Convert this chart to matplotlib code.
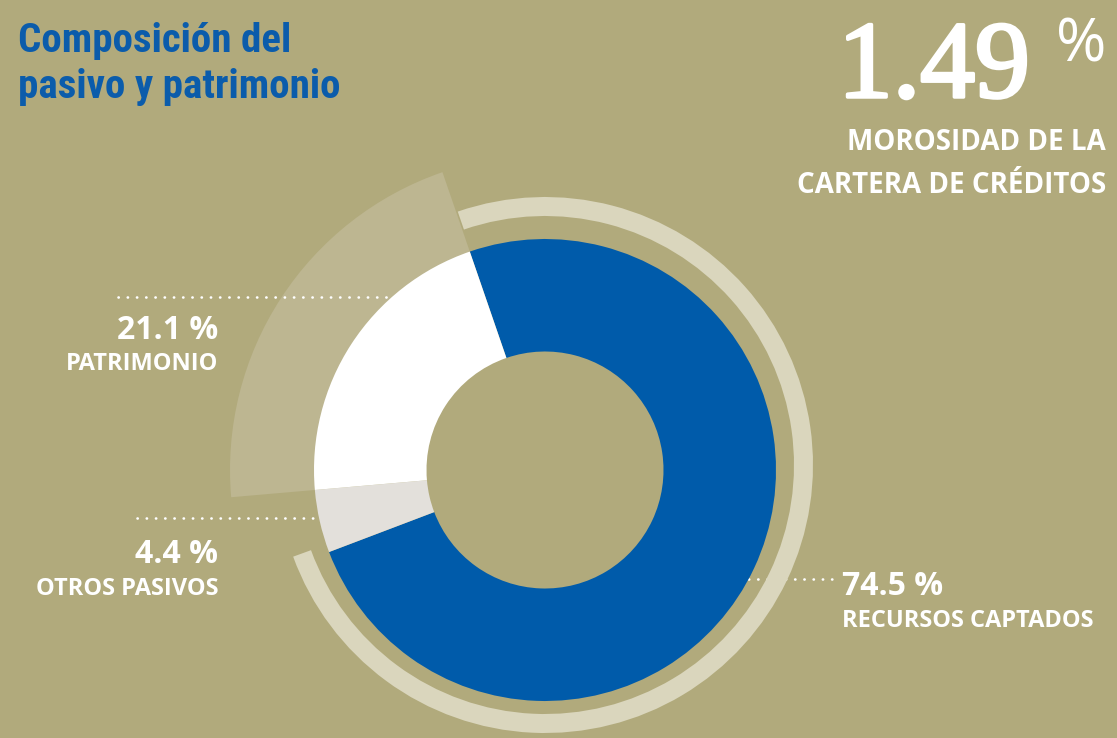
import matplotlib
matplotlib.use("Agg")
import matplotlib.pyplot as plt
from matplotlib import patches, font_manager, patheffects

# data
categories = ["RECURSOS CAPTADOS", "OTROS PASIVOS", "PATRIMONIO"]
shares = [74.5, 4.4, 21.1]
share_labels = ["74.5 %", "4.4 %", "21.1 %"]
headline_value = "1.49"
headline_unit = "%"
headline_text = ["MOROSIDAD DE LA", "CARTERA DE CRÉDITOS"]
title_lines = ["Composición del", "pasivo y patrimonio"]

W, H = 1117, 738
BG = "#B1AA7C"
BLUE = "#005BAA"
colors = [BLUE, "#E3E0DB", "#FFFFFF"]


def pick(names):
    avail = {f.name for f in font_manager.fontManager.ttflist}
    for n in names:
        if n in avail:
            return n
    return "DejaVu Sans"


title_font = pick(["Liberation Sans Narrow", "Roboto Condensed", "Liberation Sans"])
label_font = pick(["Open Sans", "Lato", "DejaVu Sans"])
big_font = pick(["Liberation Serif", "DejaVu Serif"])


def Y(y):
    """ flip a pixel row from the top into data coords """
    return H - y


fig = plt.figure(figsize=(W / 100, H / 100), dpi=100, facecolor=BG)
ax = fig.add_axes([0, 0, 1, 1])
ax.set_facecolor(BG)

center = (545, Y(470))
r_out, r_in = 231, 118.5

wedges, _ = ax.pie(shares, colors=colors, startangle=109, counterclock=False,
                   center=center, radius=r_out,
                   wedgeprops=dict(width=r_out - r_in, linewidth=0))
for w in wedges:
    w.set_zorder(3)

# big faded wedge behind the patrimonio slice (kept out of the hole)
pat = wedges[2]
ax.add_patch(patches.Wedge(center, 315, pat.theta1, pat.theta2, width=315 - 200,
                           facecolor="#BDB691", linewidth=0, zorder=1))

# thin outer ring following the blue slice
blue = wedges[0]
ax.add_patch(patches.Wedge((545, Y(465)), 268, blue.theta1 - 0.8, blue.theta2,
                           width=19, facecolor="#DAD6BD", linewidth=0, zorder=4))

ax.set_xlim(0, W)
ax.set_ylim(0, H)
ax.set_aspect("equal")
ax.axis("off")

# dotted leader lines
dot = dict(color="white", lw=1.9, linestyle=(0, (0.1, 3.4)),
           dash_capstyle="round", zorder=2)
ax.plot([118, 420], [Y(297), Y(297)], **dot)
ax.plot([137, 340], [Y(518), Y(518)], **dot)
ax.plot([730, 838], [Y(579), Y(579)], **dot)

# labels
lab_num = dict(color="white", fontsize=23, fontweight="bold", family=label_font)
lab_txt = dict(color="white", fontsize=17, fontweight="bold", family=label_font)
ax.text(218, Y(339), share_labels[2], ha="right", va="baseline", **lab_num)
ax.text(218, Y(370), categories[2], ha="right", va="baseline", **lab_txt)
ax.text(218, Y(563), share_labels[1], ha="right", va="baseline", **lab_num)
ax.text(218, Y(595), categories[1], ha="right", va="baseline", **lab_txt)
ax.text(842, Y(595), share_labels[0], ha="left", va="baseline", **lab_num)
ax.text(842, Y(627), categories[0], ha="left", va="baseline", **lab_txt)

# title
ax.text(18, Y(52), title_lines[0], ha="left", va="baseline", color="#0B5CAB",
        fontsize=29.5, fontweight="bold", family=title_font)
ax.text(18, Y(98), title_lines[1], ha="left", va="baseline", color="#0B5CAB",
        fontsize=29.5, fontweight="bold", family=title_font)

# headline figure
thick = [patheffects.withStroke(linewidth=2.5, foreground="white")]
ax.text(1030, Y(97), headline_value, ha="right", va="baseline", color="white",
        fontsize=79, family=big_font, path_effects=thick)
ax.text(1106, Y(62), headline_unit, ha="right", va="baseline", color="white",
        fontsize=44, family=label_font)
ax.text(1106, Y(150), headline_text[0], ha="right", va="baseline", color="white",
        fontsize=20, fontweight="bold", family=label_font)
ax.text(1106, Y(193), headline_text[1], ha="right", va="baseline", color="white",
        fontsize=20, fontweight="bold", family=label_font)

fig.savefig("out.png", dpi=100, facecolor=BG)
